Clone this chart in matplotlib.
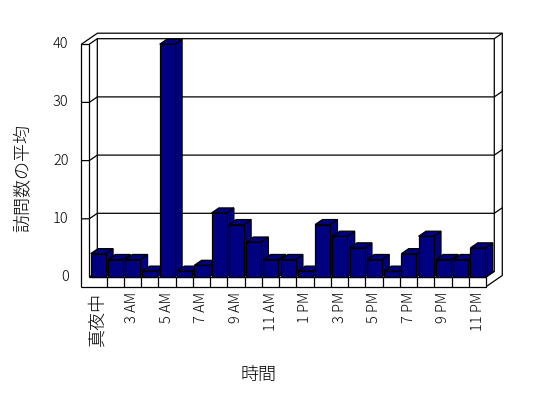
import matplotlib
matplotlib.use("Agg")
import matplotlib.pyplot as plt
from matplotlib.patches import Polygon

plt.rcParams['font.family'] = ['Noto Sans CJK JP', 'DejaVu Sans']

# data
visits = [4, 3, 3, 1, 40, 1, 2, 11, 9, 6, 3, 3, 1, 9, 7, 5, 3, 1, 4, 7, 3, 3, 5]
xlabels = ["真夜中", "3 AM", "5 AM", "7 AM", "9 AM", "11 AM",
           "1 PM", "3 PM", "5 PM", "7 PM", "9 PM", "11 PM"]
yticks = [0, 10, 20, 30, 40]
ytitle = "訪問数の平均"
xtitle = "時間"

navy = "#000080"
n = len(visits)
vmax = 40

# pixel layout of the pseudo-3d box
X0, W = 89.3, 17.26      # front-left corner, px per category
Y0, S = 277.0, 5.82      # front value 0, px per unit
dxu = 8.0 / W            # depth offset per depth unit (data units)
dyu = 5.5 / S
xL = -7.9 / W            # left wall thickness
fth = 9.5 / S            # floor thickness

def P(x, v, z):
    return (x + z * dxu, v + z * dyu)

fig = plt.figure(figsize=(5.48, 3.98), dpi=100)
ax = fig.add_axes([0, 0, 1, 1])
ax.set_xlim(-X0 / W, (548 - X0) / W)
ax.set_ylim((Y0 - 398) / S, Y0 / S)
ax.axis('off')

lw = 0.9
def seg(*pts):
    xs = [p[0] for p in pts]
    ys = [p[1] for p in pts]
    ax.plot(xs, ys, color='black', lw=lw, solid_capstyle='butt', zorder=1)

# walls and floor
seg(P(xL, -fth, 0), P(xL, vmax, 0), P(0, vmax, 0), P(0, 0, 0))
seg(P(xL, -fth, 0), P(n, -fth, 0), P(n, 0, 0), P(0, 0, 0))
seg(P(xL, vmax, 0), P(xL, vmax, 2), P(n, vmax, 2), P(n, -fth, 2), P(n, -fth, 0))
seg(P(0, vmax, 0), P(0, vmax, 1), P(n, vmax, 1), P(n, 0, 1), P(0, 0, 1), P(0, vmax, 1))
seg(P(n, vmax, 1), P(n, vmax, 2))
seg(P(n, 0, 0), P(n, 0, 1))
seg(P(0, 0, 0), P(0, 0, 1))
for k in range(1, n):
    seg(P(k, -fth, 0), P(k, 0, 0))
for v in yticks[1:-1]:
    seg(P(xL, v, 0), P(0, v, 0), P(0, v, 1), P(n, v, 1), P(n, v, 2))

# bars
bx0, bx1, bz = 0.08, 0.95, 0.92
for i, v in enumerate(visits):
    a, b = i + bx0, i + bx1
    faces = [
        [P(b, 0, 0), P(b, 0, bz), P(b, v, bz), P(b, v, 0)],
        [P(a, v, 0), P(b, v, 0), P(b, v, bz), P(a, v, bz)],
        [P(a, 0, 0), P(b, 0, 0), P(b, v, 0), P(a, v, 0)],
    ]
    for f in faces:
        ax.add_patch(Polygon(f, closed=True, facecolor=navy, edgecolor='black',
                             lw=lw, joinstyle='miter', zorder=2 + i * 0.01))

# tick labels
for v in yticks:
    ax.text((68.5 - X0) / W, v, str(v), ha='right', va='center', fontsize=10.5,
            fontweight='light')
for j, lab in enumerate(xlabels):
    fs = 13 if j == 0 else 10.5
    ax.text(2 * j + 0.5, (Y0 - 292) / S, lab, rotation=90, ha='center', va='top',
            fontsize=fs, fontweight='light')

ax.text((23 - X0) / W, (Y0 - 178) / S, ytitle, rotation=90, ha='center', va='center',
        fontsize=13, fontweight='light')
ax.text((259 - X0) / W, (Y0 - 375) / S, xtitle, ha='center', va='center', fontsize=13,
        fontweight='light')

fig.savefig("out.png", dpi=100)
